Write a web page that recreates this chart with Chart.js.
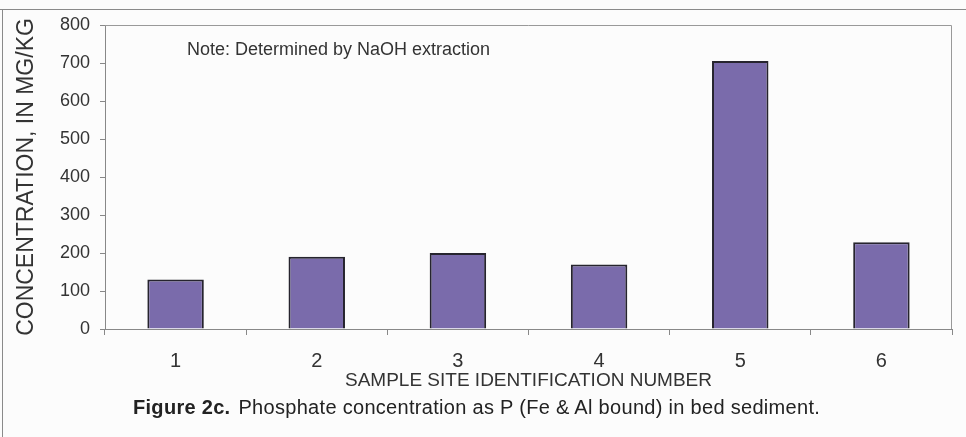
<!DOCTYPE html>
<html>
<head>
<meta charset="utf-8">
<script src="https://cdn.jsdelivr.net/npm/chart.js@4/dist/chart.umd.min.js"></script>
<style>
    html, body { margin: 0; padding: 0; background: #fcfcfc; }
    #wrap { position: relative; width: 966px; height: 437px; overflow: hidden; }
    #chart { position: absolute; left: 0; top: 0; }
    #caption {
        position: absolute; left: 133px; top: 396px;
        font-family: "Liberation Sans", Arial, sans-serif; font-size: 20px; color: #222;
        white-space: nowrap; letter-spacing: 0.3px;
    }
    #caption b { margin-right: 8px; }
</style>
</head>
<body>
<div id="wrap">
    <canvas id="chart" width="966" height="437"></canvas>
    <div id="caption"><b>Figure 2c.</b>Phosphate concentration as P (Fe &amp; Al bound) in bed sediment.</div>
</div>
<script>
const sites = ['1', '2', '3', '4', '5', '6'];
const concentration = [130, 190, 200, 170, 705, 228];
const yTicks = [0, 100, 200, 300, 400, 500, 600, 700, 800];
const noteText = 'Note: Determined by NaOH extraction';

document.addEventListener('DOMContentLoaded', function() {
    initPhosphateChart();
});

function initPhosphateChart() {
    const ctx = document.getElementById('chart');
    if (!ctx) return;

    // frame, plot border on top/right, and the note inside the plot
    const decorations = {
        id: 'decorations',
        afterDraw(chart) {
            const c = chart.ctx;
            const area = chart.chartArea;
            c.save();
            c.strokeStyle = '#8a8a8a';
            c.lineWidth = 1;
            c.beginPath();
            c.moveTo(0, 9.5); c.lineTo(966, 9.5);
            c.moveTo(2.5, 9.5); c.lineTo(2.5, 437);
            c.stroke();

            c.strokeStyle = '#999';
            c.beginPath();
            c.moveTo(area.left, area.top + 0.5);
            c.lineTo(area.right - 0.5, area.top + 0.5);
            c.lineTo(area.right - 0.5, area.bottom);
            c.stroke();

            c.fillStyle = '#333';
            c.font = '18px "Liberation Sans", Arial, sans-serif';
            c.textBaseline = 'alphabetic';
            c.fillText(noteText, 187, 55);
            c.restore();
        }
    };

    new Chart(ctx, {
        type: 'bar',
        data: {
            labels: sites,
            datasets: [{
                label: 'Concentration',
                data: concentration,
                backgroundColor: '#7a6bab',
                borderColor: '#26242e',
                borderWidth: 2,
                barPercentage: 0.4,
                categoryPercentage: 1.0
            }]
        },
        options: {
            responsive: false,
            animation: false,
            layout: { padding: { left: 0, top: 25, right: 14, bottom: 0 } },
            plugins: {
                legend: { display: false },
                tooltip: { enabled: false }
            },
            scales: {
                x: {
                    afterFit(scale) { scale.height = 108; },
                    grid: {
                        display: true,
                        offset: true,
                        drawOnChartArea: false,
                        drawTicks: true,
                        tickLength: 6,
                        color: '#888'
                    },
                    border: { display: true, color: '#888', width: 1 },
                    ticks: {
                        color: '#333',
                        padding: 14,
                        font: { family: '"Liberation Sans", Arial, sans-serif', size: 20 }
                    },
                    title: {
                        display: true,
                        text: 'SAMPLE SITE IDENTIFICATION NUMBER',
                        color: '#333',
                        font: { family: '"Liberation Sans", Arial, sans-serif', size: 19 },
                        padding: { top: 0, bottom: 45 }
                    }
                },
                y: {
                    min: 0,
                    max: 800,
                    afterFit(scale) { scale.width = 105; },
                    afterBuildTicks(scale) {
                        scale.ticks = yTicks.map(v => ({ value: v }));
                    },
                    grid: {
                        display: true,
                        drawOnChartArea: false,
                        drawTicks: true,
                        tickLength: 5,
                        color: '#888'
                    },
                    border: { display: true, color: '#888', width: 1 },
                    ticks: {
                        color: '#333',
                        padding: 10,
                        font: { family: '"Liberation Sans", Arial, sans-serif', size: 18 }
                    },
                    title: {
                        display: true,
                        text: 'CONCENTRATION, IN MG/KG',
                        color: '#333',
                        font: { family: '"Liberation Sans", Arial, sans-serif', size: 23 },
                        padding: { top: 13, bottom: 0 }
                    }
                }
            }
        },
        plugins: [decorations]
    });
}
</script>
</body>
</html>
